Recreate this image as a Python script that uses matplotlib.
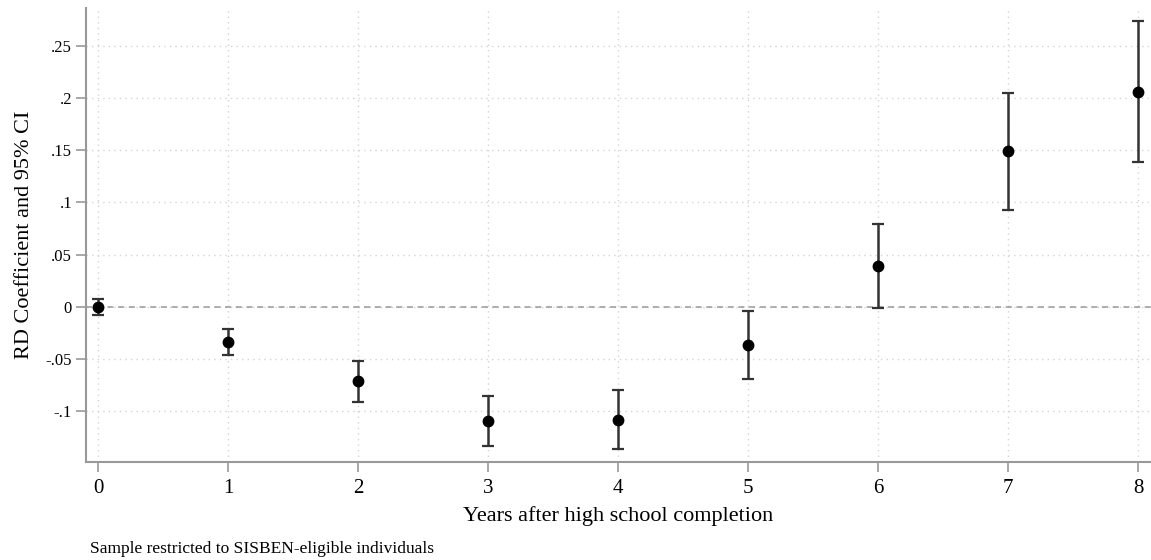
import numpy as np
import matplotlib
matplotlib.use("Agg")
import matplotlib.pyplot as plt

plt.rcParams['font.family'] = ['Liberation Serif', 'DejaVu Serif']

# data
years = [0, 1, 2, 3, 4, 5, 6, 7, 8]
coef = [0.0, -0.034, -0.071, -0.109, -0.108, -0.036, 0.039, 0.149, 0.206]
ci_lo = [-0.0077, -0.046, -0.091, -0.133, -0.136, -0.069, -0.001, 0.093, 0.139]
ci_hi = [0.0077, -0.021, -0.052, -0.085, -0.080, -0.004, 0.079, 0.205, 0.274]
yticks = [-0.1, -0.05, 0, 0.05, 0.1, 0.15, 0.2, 0.25]
ytick_labels = ["-.1", "-.05", "0", ".05", ".1", ".15", ".2", ".25"]

fig = plt.figure(figsize=(11.51, 5.6), dpi=100)
ax = fig.add_axes([0.0747, 0.175, 0.9253, 0.811])

coef = np.array(coef)
err = np.vstack([coef - np.array(ci_lo), np.array(ci_hi) - coef])
ax.errorbar(years, coef, yerr=err, fmt='none', ecolor='#333333',
            elinewidth=1.8, capsize=4, capthick=1.6, zorder=3)
ax.plot(years, coef, 'o', color='black', markersize=7.5, zorder=4)

ax.axhline(0, color='#999999', lw=1.1, ls=(0, (4, 3)), zorder=2)

ax.set_xlim(-0.092, 8.1)
ax.set_ylim(-0.1485, 0.2864)
ax.set_xticks(years)
ax.set_yticks(yticks)
ax.set_yticklabels(ytick_labels)
ax.tick_params(axis='x', labelsize=15, length=7, color='#999999', width=1.2, pad=5)
ax.tick_params(axis='y', labelsize=12, length=7, color='#999999', width=1.2, pad=3)

ax.grid(True, color='#d4d4d4', ls=(0, (1, 3)), lw=1.0)
ax.set_axisbelow(True)

for s in ['top', 'right']:
    ax.spines[s].set_visible(False)
for s in ['left', 'bottom']:
    ax.spines[s].set_color('#999999')
    ax.spines[s].set_linewidth(1.5)

ax.set_xlabel("Years after high school completion", fontsize=16, labelpad=6)
ax.set_ylabel("RD Coefficient and 95% CI", fontsize=16, labelpad=8)

fig.text(0.078, 0.013, "Sample restricted to SISBEN-eligible individuals", fontsize=12.5)

fig.savefig("out.png", dpi=100, facecolor='white')
